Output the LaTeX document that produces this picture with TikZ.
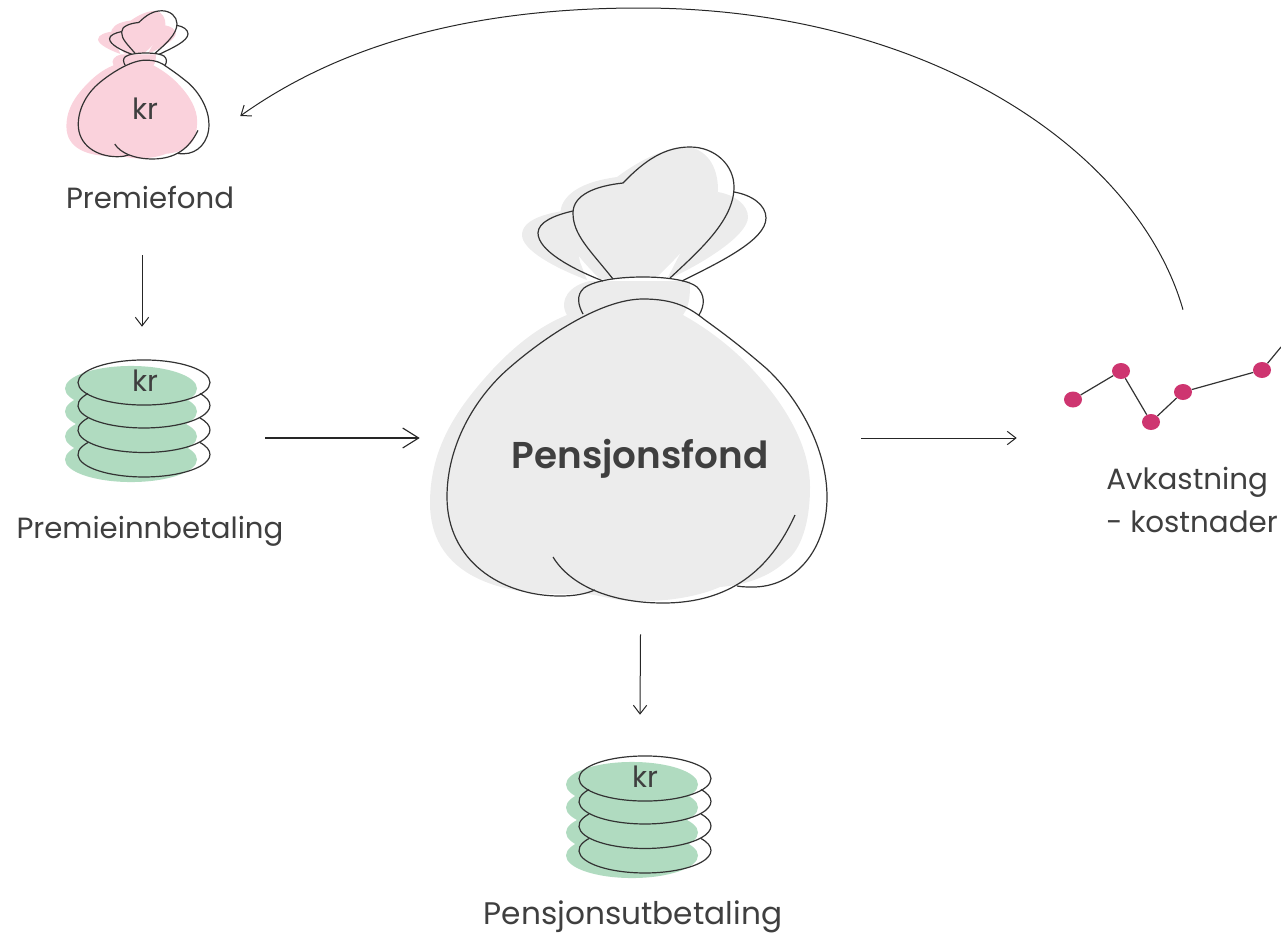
\documentclass[tikz,border=0pt]{standalone}
\usepackage{fontspec}
\setmainfont{Poppins}[BoldFont={Poppins SemiBold}]
\usetikzlibrary{arrows.meta,shapes.geometric}
\definecolor{inktext}{HTML}{3F3F3F}
\definecolor{fondgrey}{HTML}{ECECEC}
\definecolor{fondpink}{HTML}{FAD2DC}
\definecolor{stackgreen}{HTML}{B0DBC0}
\definecolor{chartdot}{HTML}{CE3570}
\tikzset{
  pics/bagfill/.style={code={
    \fill[#1] (493,369) .. controls (525,335) and (550,322) .. (567,315) .. controls (558,300) and (570,285) .. (590,281)
      -- (690,281) .. controls (690,295) and (690,305) .. (683,315) .. controls (710,330) and (735,350) .. (753,370)
      .. controls (790,410) and (810,450) .. (810,487) .. controls (810,525) and (800,550) .. (787,560)
      .. controls (770,577) and (745,585) .. (720,587) .. controls (690,600) and (650,603) .. (620,600)
      .. controls (600,597) and (590,592) .. (570,594) .. controls (490,596) and (430,570) .. (430,503)
      .. controls (430,445) and (460,405) .. (493,369) -- cycle;
    \fill[#1] (657,277) .. controls (685,250) and (717,215) .. (718,190) .. controls (718,170) and (710,152) .. (690,147)
      .. controls (665,147) and (640,160) .. (617,177) .. controls (595,180) and (570,187) .. (562,205)
      .. controls (555,225) and (570,250) .. (600,279) -- cycle;
    \fill[#1] (668,277) -- (682,250) -- (705,215) -- (718,192) .. controls (735,195) and (748,205) .. (748,217)
      .. controls (748,235) and (705,262) .. (673,277) -- cycle;
    \fill[#1] (580,262) -- (570,210) .. controls (545,213) and (522,220) .. (522,235)
      .. controls (522,250) and (555,268) .. (587,280) -- cycle;
  }},
  pics/bagline/.style={code={
    \draw[bagstroke] (595,590) .. controls (585,594) and (575,596) .. (560,596)
      .. controls (500,596) and (447,560) .. (447,497) .. controls (447,445) and (475,398) .. (508,369)
      .. controls (542,339) and (600,299) .. (643,299) .. controls (675,299) and (690,308) .. (705,320)
      .. controls (730,338) and (745,350) .. (767,369) .. controls (800,400) and (827,450) .. (827,497)
      .. controls (827,550) and (795,587) .. (753,587) .. controls (748,587) and (742,587) .. (737,586);
    \draw[bagstroke] (553,557) .. controls (570,585) and (610,603) .. (663,603) .. controls (730,603) and (770,570) .. (795,515);
    \draw[bagstroke] (583,314) .. controls (578,305) and (576,295) .. (584,288) .. controls (595,280) and (620,277) .. (643,277)
      .. controls (670,277) and (690,281) .. (697,287) .. controls (705,295) and (705,305) .. (699,315);
    \draw[bagstroke] (613,279) .. controls (590,250) and (573,235) .. (573,213) .. controls (573,195) and (595,186) .. (623,183)
      .. controls (645,160) and (665,147) .. (690,147) .. controls (715,147) and (734,165) .. (734,187)
      .. controls (734,220) and (700,250) .. (670,278);
    \draw[bagstroke] (603,281) .. controls (570,268) and (538,250) .. (538,233) .. controls (538,222) and (555,215) .. (573,211);
    \draw[bagstroke] (734,192) .. controls (752,195) and (766,205) .. (766,218) .. controls (766,240) and (720,262) .. (682,281);
  }},
  pics/coinstack/.style={code={
    \foreach \dy in {6,29,54,77}
      \fill[stackgreen] (-13,\dy) ellipse [x radius=49.5pt, y radius=16.9pt];
    \draw[bagstroke] (0,0) ellipse [x radius=49.5pt, y radius=16.9pt];
    \foreach \dy in {23,47.5,72}
      \draw[bagstroke] (-56,\dy-12) arc [start angle=148, end angle=392, x radius=49.5pt, y radius=16.9pt];
  }}
}
\begin{document}
\begin{tikzpicture}[x=.75pt, y=-.75pt,
    bagstroke/.style={draw=black!80, line width=.9pt},
    area/.style 2 args={minimum width=#1*.75pt, minimum height=#2*.75pt, inner sep=0pt},
    label/.style={text=inktext, font=\fontsize{21.9}{26}\selectfont, inner sep=0pt},
    dot/.style={ellipse, fill=chartdot, minimum width=13.5pt, minimum height=12pt, inner sep=0pt},
    flow/.style={-{Straight Barb[length=6.5pt, width=10pt]}, black!85, line width=.75pt},
    bigflow/.style={-{Straight Barb[length=12pt, width=15pt]}, black!85, line width=.85pt}]
\useasboundingbox (0,0) rectangle (1281,935);

% bags
\pic at (0,0) {bagfill=fondgrey};
\pic at (0,0) {bagline};
\pic[xscale=.344, yscale=.325] at (-81.5,-37) {bagfill=fondpink};
\pic[xscale=.344, yscale=.325] at (-75.5,-37) {bagline};

% stacks
\pic at (144,382.5) {coinstack};
\pic at (645,778.5) {coinstack};

% invisible boxes, the arrows stop on their borders
\node[area={196}{278}] (premiebag) at (142,116) {};
\node[area={246}{222}] (premiestack) at (142,438) {};
\node[area={441}{392}] (pensjonsbag) at (640.5,438) {};
\node[area={100}{100}] (utstack) at (640,765) {};
\node[area={332}{256}] (chart) at (1183,438) {};

% texts
\node[label] (krbag) at (145,109) {kr};
\node[label] (krinn) at (145,381) {kr};
\node[label] (krut) at (645,777) {kr};
\node[label] (premiefond) at (150,197) {Premiefond};
\node[label] (premieinn) at (150,531) {Premieinnbetaling};
\node[label, font=\fontsize{28}{32}\selectfont\bfseries] (pensjonsfond) at (640,459) {Pensjonsfond};
\node[label, align=left, font=\fontsize{22}{32}\selectfont] (avkastning) at (1192,500) {Avkastning\\- kostnader};
\node[label, font=\fontsize{23.4}{28}\selectfont] (pensjonsut) at (633,917) {Pensjonsutbetaling};

% chart
\node[dot] (p1) at (1073,399.5) {};
\node[dot] (p2) at (1121,371) {};
\node[dot] (p3) at (1151,422) {};
\node[dot] (p4) at (1183,392) {};
\node[dot] (p5) at (1262,370) {};
\coordinate (pend) at (1281,347);
\draw[bagstroke] (p1) -- (p2);
\draw[bagstroke] (p2) -- (p3);
\draw[bagstroke] (p3) -- (p4);
\draw[bagstroke] (p4) -- (p5);
\draw[bagstroke] (p5) -- (pend);

% arrows
\draw[flow] (premiebag.south) -- (premiestack.north);
\draw[bigflow] (premiestack.east) -- (pensjonsbag.west);
\draw[flow] (pensjonsbag.east) -- (chart.west);
\draw[flow] (pensjonsbag.south) -- (utstack.north);
\draw[flow] (chart.north) .. controls (1138,152) and (930,8) .. (640,8)
  .. controls (470,8) and (340,45) .. (premiebag.east);
\end{tikzpicture}
\end{document}
